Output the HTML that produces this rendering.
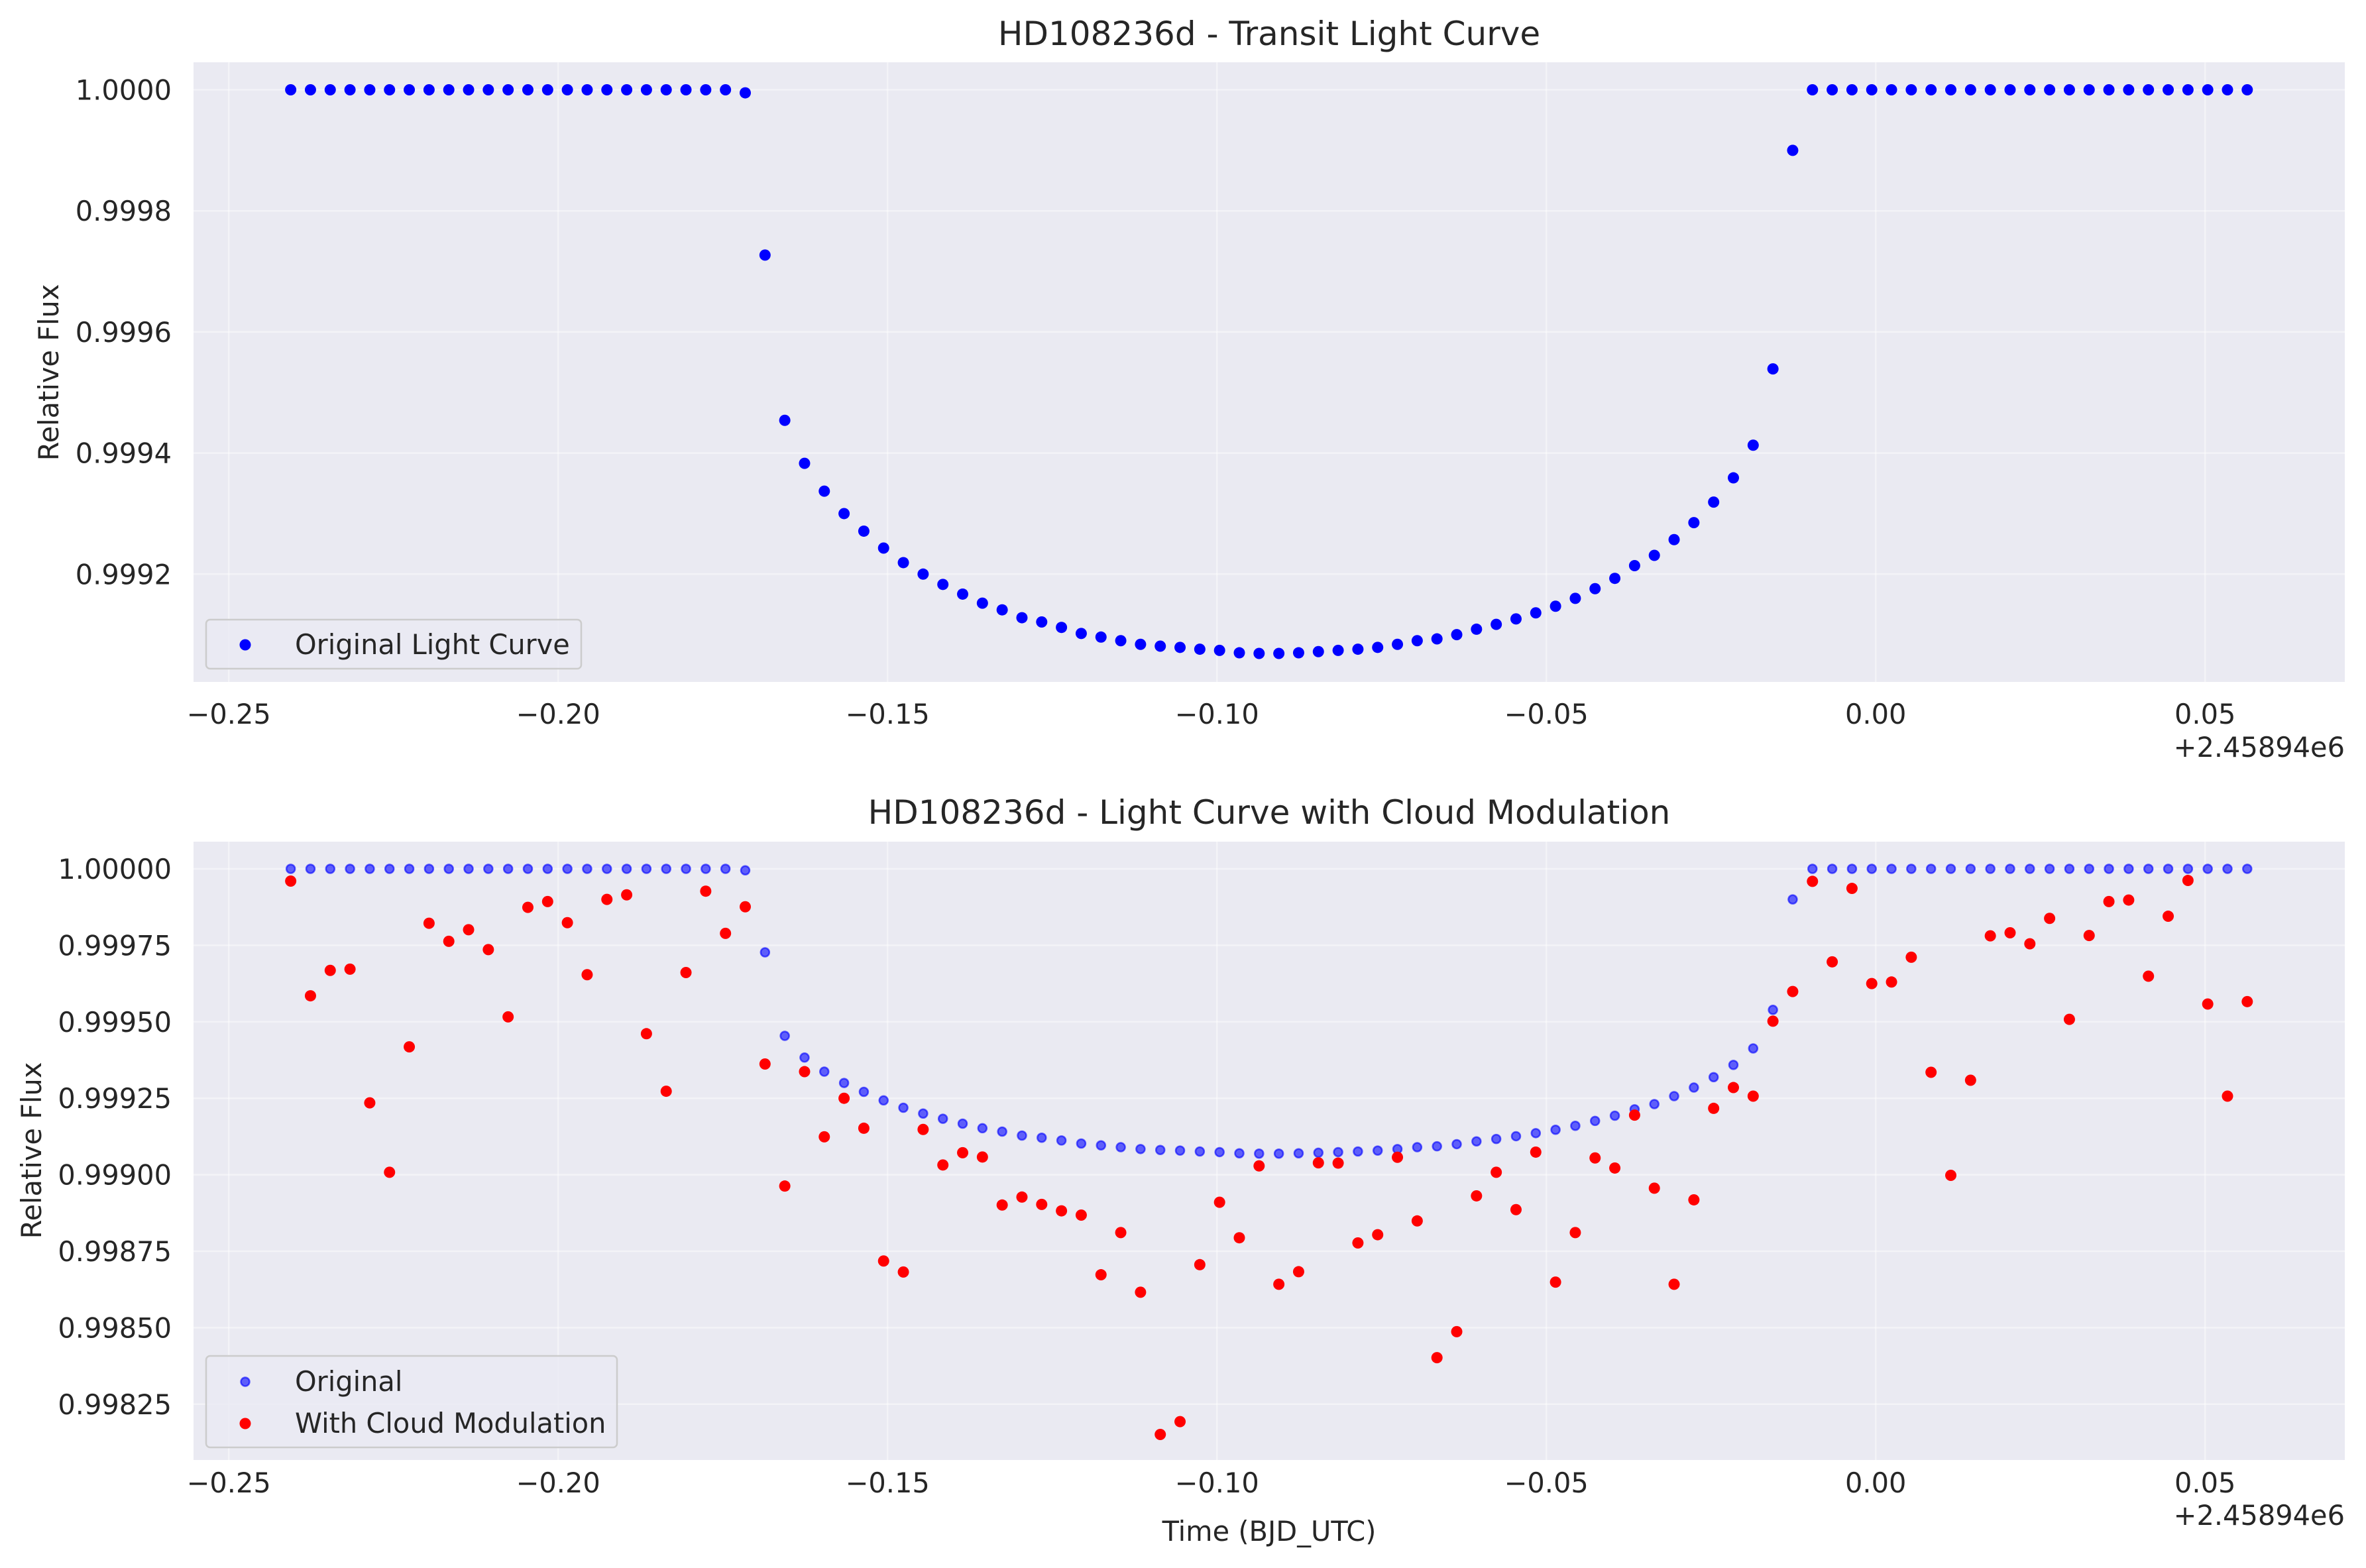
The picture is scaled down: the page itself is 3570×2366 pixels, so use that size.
<!DOCTYPE html>
<html><head><meta charset="utf-8">
<style>
html,body{margin:0;padding:0;background:#fff;}
svg{display:block;font-family:"DejaVu Sans","Liberation Sans",sans-serif;}
</style></head>
<body>
<svg id="fig" width="3570" height="2366" viewBox="0 0 3570 2366" xmlns="http://www.w3.org/2000/svg"></svg>
<script>
const times = [-0.2406,-0.2376,-0.2346,-0.2316,-0.2286,-0.2256,-0.2226,-0.2196,-0.2166,-0.2136,
-0.2106,-0.2076,-0.2046,-0.2016,-0.1986,-0.1956,-0.1926,-0.1896,-0.1866,-0.1836,
-0.1806,-0.1776,-0.1746,-0.1716,-0.1686,-0.1656,-0.1626,-0.1596,-0.1566,-0.1536,
-0.1506,-0.1476,-0.1446,-0.1416,-0.1386,-0.1356,-0.1326,-0.1296,-0.1266,-0.1236,
-0.1206,-0.1176,-0.1146,-0.1116,-0.1086,-0.1056,-0.1026,-0.0996,-0.0966,-0.0936,
-0.0906,-0.0876,-0.0846,-0.0816,-0.0786,-0.0756,-0.0726,-0.0696,-0.0666,-0.0636,
-0.0606,-0.0576,-0.0546,-0.0516,-0.0486,-0.0456,-0.0426,-0.0396,-0.0366,-0.0336,
-0.0306,-0.0276,-0.0246,-0.0216,-0.0186,-0.0156,-0.0126,-0.0096,-0.0066,-0.0036,
-0.0006,0.0024,0.0054,0.0084,0.0114,0.0144,0.0174,0.0204,0.0234,0.0264,
0.0294,0.0324,0.0354,0.0384,0.0414,0.0444,0.0474,0.0504,0.0534,0.0564];
const fluxOriginal = [1,1,1,1,1,1,1,1,1,1,1,1,1,1,1,1,1,1,1,1,1,1,1,0.999995,
0.999727,0.999454,0.999383,0.999337,0.999300,0.999271,0.999243,0.999219,0.999200,0.999183,
0.999167,0.999152,0.999141,0.999128,0.999121,0.999112,0.999102,0.999096,0.999090,0.999084,
0.999081,0.999079,0.999076,0.999074,0.999070,0.999069,0.999069,0.999070,0.999072,0.999074,
0.999076,0.999079,0.999084,0.999090,0.999093,0.999100,0.999109,0.999117,0.999126,0.999136,
0.999147,0.999160,0.999176,0.999193,0.999214,0.999231,0.999257,0.999285,0.999319,0.999359,
0.999413,0.999539,0.999900,1,1,1,1,1,1,1,1,1,1,1,1,1,1,1,1,1,1,1,1,1,1,1];
const fluxCloud = [0.999960,0.999585,0.999668,0.999672,0.999235,0.999008,0.999418,0.999822,0.999763,0.999801,
0.999736,0.999516,0.999874,0.999893,0.999824,0.999654,0.999900,0.999915,0.999461,0.999273,
0.999661,0.999927,0.999789,0.999876,0.999362,0.998963,0.999337,0.999124,0.999250,0.999152,
0.998718,0.998682,0.999148,0.999032,0.999072,0.999058,0.998901,0.998927,0.998903,0.998882,
0.998868,0.998673,0.998811,0.998616,0.998151,0.998193,0.998706,0.998910,0.998794,0.999029,
0.998642,0.998683,0.999039,0.999038,0.998777,0.998804,0.999057,0.998849,0.998402,0.998487,
0.998931,0.999008,0.998886,0.999074,0.998649,0.998811,0.999055,0.999022,0.999195,0.998956,
0.998642,0.998918,0.999217,0.999285,0.999257,0.999502,0.999599,0.999959,0.999696,0.999936,
0.999625,0.999630,0.999711,0.999335,0.998998,0.999309,0.999781,0.999791,0.999755,0.999838,
0.999508,0.999782,0.999893,0.999898,0.999649,0.999845,0.999962,0.999558,0.999257,0.999566];
const xTicks = [-0.25,-0.20,-0.15,-0.10,-0.05,0.00,0.05];
const xTickLabels = ["\u22120.25","\u22120.20","\u22120.15","\u22120.10","\u22120.05","0.00","0.05"];
const yTicksTop = [1.0000,0.9998,0.9996,0.9994,0.9992];
const yTickLabelsTop = ["1.0000","0.9998","0.9996","0.9994","0.9992"];
const yTicksBot = [1.00000,0.99975,0.99950,0.99925,0.99900,0.99875,0.99850,0.99825];
const yTickLabelsBot = ["1.00000","0.99975","0.99950","0.99925","0.99900","0.99875","0.99850","0.99825"];

const NS="http://www.w3.org/2000/svg";
const svg=document.getElementById('fig');
function mk(tag,attrs,parent){const e=document.createElementNS(NS,tag);for(const k in attrs)e.setAttribute(k,attrs[k]);(parent||svg).appendChild(e);return e;}
const AX_L=292, AX_R=3538, FS=41.5;
function xScale(t){return 345.2+(t+0.25)*9940;}
function yTop(f){return 135.5+(1-f)/0.0002*182.7;}
function yBot(f){return 1311+(1-f)/0.00025*115.4;}

function panel(name,top,bottom,yS,yT,yL,title,titleY,xTickY,offY){
  const g=mk('g',{});
  
  
  const bg=mk('rect',{x:AX_L,y:top,width:AX_R-AX_L,height:bottom-top,fill:'#eaeaf2'},g);
  
  
  xTicks.forEach((t,i)=>{
    const x=xScale(t);
    const l=mk('line',{x1:x,x2:x,y1:top,y2:bottom,stroke:'#ffffff','stroke-width':2.5,opacity:0.45},g);
    
    
    const tx=mk('text',{x:x,y:xTickY,'font-size':FS,fill:'#262626','text-anchor':'middle'},g);
    
    
    tx.textContent=xTickLabels[i];
  });
  yT.forEach((v,i)=>{
    const y=yS(v);
    const l=mk('line',{x1:AX_L,x2:AX_R,y1:y,y2:y,stroke:'#ffffff','stroke-width':2.5,opacity:0.45},g);
    
    
    const tx=mk('text',{x:259,y:y+15,'font-size':FS,fill:'#262626','text-anchor':'end'},g);
    
    
    tx.textContent=yL[i];
  });
  const tt=mk('text',{x:(AX_L+AX_R)/2,y:titleY,'font-size':50,fill:'#262626','text-anchor':'middle'},g);
  
  
  tt.textContent=title;
  const off=mk('text',{x:AX_R,y:offY,'font-size':FS,fill:'#262626','text-anchor':'end'},g);
  
  
  off.textContent='+2.45894e6';
  return g;
}

// Top panel
const g1=panel('transit-panel',94,1029,yTop,yTicksTop,yTickLabelsTop,'HD108236d - Transit Light Curve',68,1092,1142);
const yl1=mk('text',{x:0,y:0,'font-size':FS,fill:'#262626','text-anchor':'middle',transform:'translate(88,562) rotate(-90)'},g1);


yl1.textContent='Relative Flux';
times.forEach((t,i)=>{
  const c=mk('circle',{cx:xScale(t),cy:yTop(fluxOriginal[i]),r:8.5,fill:'#0000ff'},g1);
  
  
});
const lg1=mk('g',{},g1);


mk('rect',{x:311,y:935,width:566,height:74,rx:6,fill:'#eaeaf2','fill-opacity':0.8,stroke:'#cccccc','stroke-width':2.5},lg1);
mk('circle',{cx:370,cy:973,r:8.5,fill:'#0000ff'},lg1);
const lt1=mk('text',{x:445,y:987,'font-size':FS,fill:'#262626'},lg1);


lt1.textContent='Original Light Curve';

// Bottom panel
const g2=panel('cloud-panel',1270,2203,yBot,yTicksBot,yTickLabelsBot,'HD108236d - Light Curve with Cloud Modulation',1243,2252,2301);
const yl2=mk('text',{x:0,y:0,'font-size':FS,fill:'#262626','text-anchor':'middle',transform:'translate(62,1736) rotate(-90)'},g2);


yl2.textContent='Relative Flux';
const xl=mk('text',{x:(AX_L+AX_R)/2,y:2325,'font-size':FS,fill:'#262626','text-anchor':'middle'},g2);


xl.textContent='Time (BJD_UTC)';
times.forEach((t,i)=>{
  const c=mk('circle',{cx:xScale(t),cy:yBot(fluxOriginal[i]),r:6.5,fill:'#0000ff','fill-opacity':0.6,stroke:'#0000ff','stroke-opacity':0.6,'stroke-width':2.5},g2);
  
  
});
times.forEach((t,i)=>{
  const c=mk('circle',{cx:xScale(t),cy:yBot(fluxCloud[i]),r:8.5,fill:'#ff0000'},g2);
  
  
});
const lg2=mk('g',{},g2);


mk('rect',{x:311,y:2046,width:620,height:138,rx:6,fill:'#eaeaf2','fill-opacity':0.8,stroke:'#cccccc','stroke-width':2.5},lg2);
mk('circle',{cx:370,cy:2085,r:6.5,fill:'#0000ff','fill-opacity':0.6,stroke:'#0000ff','stroke-opacity':0.6,'stroke-width':2.5},lg2);
mk('circle',{cx:370,cy:2148,r:8.5,fill:'#ff0000'},lg2);
const lt2=mk('text',{x:445,y:2099,'font-size':FS,fill:'#262626'},lg2);


lt2.textContent='Original';
const lt3=mk('text',{x:445,y:2162,'font-size':FS,fill:'#262626'},lg2);


lt3.textContent='With Cloud Modulation';
</script>
</body></html>
